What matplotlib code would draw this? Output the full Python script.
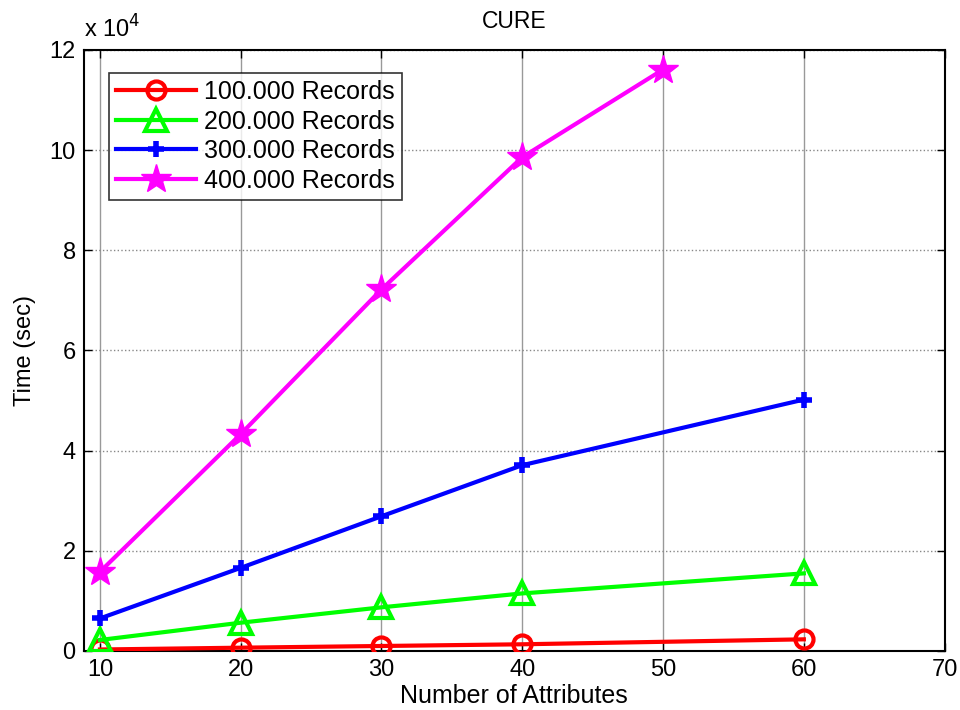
import matplotlib
matplotlib.use("Agg")
import matplotlib.pyplot as plt
from matplotlib.ticker import FuncFormatter

plt.rcParams['font.family'] = ['Liberation Sans', 'DejaVu Sans']

attrs_a = [10, 20, 30, 40, 60]
attrs_b = [10, 20, 30, 40, 50]
rec_100k = [300, 660, 1000, 1340, 2330]
rec_200k = [2200, 5650, 8720, 11500, 15500]
rec_300k = [6500, 16600, 26900, 37100, 50200]
rec_400k = [15800, 43300, 72200, 98600, 116100]
labels = ["100.000 Records", "200.000 Records", "300.000 Records", "400.000 Records"]

fig = plt.figure(figsize=(9.6, 7.1), dpi=100)
ax = fig.add_axes([0.0875, 0.0831, 0.8965, 0.8465])

lw = 3
ax.plot(attrs_a, rec_100k, color='#ff0000', lw=lw, marker='o', ms=13,
        mfc='none', mew=3, label=labels[0], zorder=3)
ax.plot(attrs_a, rec_200k, color='#00ff00', lw=lw, marker='^', ms=16,
        mfc='none', mew=3, label=labels[1], zorder=3)
ax.plot(attrs_a, rec_300k, color='#0000ff', lw=lw, marker='+', ms=12,
        mew=4, label=labels[2], zorder=3)
ax.plot(attrs_b, rec_400k, color='#ff00ff', lw=lw, marker='*', ms=22,
        label=labels[3], zorder=3)

ax.set_xlim(8.87, 70)
ax.set_ylim(0, 120000)
ax.set_xticks([10, 20, 30, 40, 50, 60, 70])
ax.set_yticks([0, 20000, 40000, 60000, 80000, 100000, 120000])
ax.yaxis.set_major_formatter(FuncFormatter(lambda v, p: f"{v/1e4:g}"))

ax.grid(True, axis='x', color='#999999', lw=1, ls='-')
ax.grid(True, axis='y', color='#888888', lw=1, ls=':')
ax.tick_params(direction='in', top=True, right=True, labelsize=17,
               length=6, width=1, pad=6)
for s in ax.spines.values():
    s.set_linewidth(1.5)

ax.set_xlabel("Number of Attributes", fontsize=18, labelpad=2)
ax.set_ylabel("Time (sec)", fontsize=17, labelpad=10)
ax.set_title("CURE", fontsize=16.5, pad=16)
ax.text(0.0, 1.012, r"x 10$^{4}$", transform=ax.transAxes, fontsize=17,
        ha='left', va='bottom')

leg = ax.legend(loc='upper left', fontsize=18, frameon=True, fancybox=False,
                edgecolor='black', borderpad=0.3, handlelength=3.2,
                labelspacing=0.22, handletextpad=0.3,
                bbox_to_anchor=(0.014, 0.983))
leg.get_frame().set_linewidth(1.2)

fig.savefig("out.png", dpi=100)
